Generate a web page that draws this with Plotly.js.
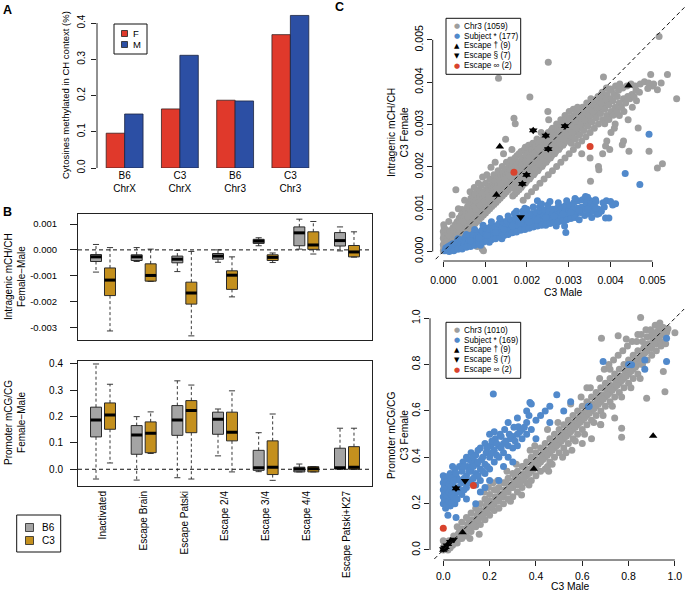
<!DOCTYPE html>
<html><head><meta charset="utf-8">
<script src="https://cdn.plot.ly/plotly-3.0.1.min.js"></script>
<style>html,body{margin:0;padding:0;background:#fff}#chart{width:685px;height:592px}</style>
</head><body><div id="chart"></div>
<script>
// ---------------- Panel A data ----------------
const aStrain = ['B6','C3','B6','C3'];
const aChrom  = ['ChrX','ChrX','Chr3','Chr3'];
const aFemale = [0.096, 0.163, 0.187, 0.368];
const aMale   = [0.149, 0.311, 0.185, 0.421];
const aTicks  = [0, 0.1, 0.2, 0.3, 0.4];
const aTickText = ['0.0','0.1','0.2','0.3','0.4'];

// ---------------- Panel B data ----------------
const groups = ['Inactivated','Escape Brain','Escape Patski','Escape 2/4','Escape 3/4','Escape 4/4','Escape Patski+K27'];
// [lower whisker, Q1, median, Q3, upper whisker]  (units of 0.001)
const intraB6 = [[-0.86,-0.45,-0.27,-0.18,0.21],[-0.45,-0.41,-0.27,-0.19,0.09],[-0.84,-0.50,-0.36,-0.24,-0.02],
  [-0.48,-0.36,-0.24,-0.14,0.00],[0.16,0.25,0.34,0.41,0.47],[0.03,0.16,0.66,0.89,1.19],[-0.04,0.15,0.36,0.67,0.89]];
const intraC3 = [[-3.14,-1.77,-1.17,-0.70,0.09],[-1.22,-1.21,-0.99,-0.54,0.03],[-3.33,-2.10,-1.67,-1.25,-0.06],
  [-1.82,-1.53,-0.98,-0.81,-0.27],[-0.49,-0.41,-0.29,-0.19,-0.12],[-0.16,0.02,0.19,0.70,1.10],[-0.28,-0.27,-0.08,0.17,0.70]];
// [lower whisker, Q1, median, Q3, upper whisker]
const promB6 = [[-0.037,0.123,0.187,0.236,0.400],[-0.041,0.057,0.130,0.166,0.200],[-0.032,0.129,0.187,0.242,0.336],
  [0.051,0.133,0.190,0.217,0.229],[-0.009,-0.004,0.006,0.072,0.139],[-0.010,-0.010,0.001,0.008,0.020],[0.000,0.001,0.006,0.080,0.156]];
const promC3 = [[0.024,0.152,0.206,0.252,0.323],[0.060,0.063,0.137,0.180,0.218],[-0.037,0.139,0.223,0.261,0.320],
  [-0.010,0.108,0.141,0.217,0.298],[-0.042,-0.020,0.008,0.108,0.210],[-0.010,-0.010,0.002,0.010,0.010],[0.000,0.000,0.008,0.086,0.156]];
const bTopTicks = [-0.003,-0.002,-0.001,0,0.001];
const bTopTickText = ['-0.003','-0.002','-0.001','0.000','0.001'];
const bBotTicks = [0,0.1,0.2,0.3,0.4];
const bBotTickText = ['0.0','0.1','0.2','0.3','0.4'];

// ---------------- Panel C data (top: units of 0.001) ----------------
const chr3Top = [
[0.00,0.02],[0.01,0.09],[0.00,0.16],[0.02,0.23],[0.00,0.31],[0.01,0.39],[0.00,0.47],[0.02,0.56],[0.01,0.63],
[0.05,0.04],[0.06,0.12],[0.04,0.20],[0.07,0.28],[0.05,0.36],[0.06,0.51],
[0.10,0.03],[0.11,0.10],[0.09,0.17],[0.12,0.25],[0.10,0.33],[0.11,0.43],[0.13,0.71],
[0.16,0.07],[0.15,0.18],[0.17,0.27],[0.14,0.37],[0.16,0.49],
[0.21,0.11],[0.19,0.21],[0.22,0.30],[0.20,0.41],[0.23,0.56],[0.21,0.86],
[0.26,0.14],[0.24,0.26],[0.27,0.36],[0.25,0.51],[0.28,0.63],
[0.31,0.19],[0.29,0.31],[0.32,0.43],[0.30,0.56],[0.33,0.70],[0.30,1.46],
[0.36,0.26],[0.34,0.39],[0.37,0.51],[0.35,0.66],[0.38,0.79],[0.36,1.01],
[0.41,0.29],[0.39,0.46],[0.42,0.59],[0.40,0.71],[0.43,0.86],[0.45,0.99],
[0.46,0.36],[0.44,0.51],[0.47,0.63],[0.45,0.76],[0.48,0.91],
[0.51,0.41],[0.49,0.56],[0.52,0.69],[0.50,0.81],[0.53,0.96],[0.51,1.21],
[0.56,0.46],[0.54,0.61],[0.57,0.73],[0.55,0.89],[0.58,1.06],
[0.61,0.51],[0.59,0.63],[0.62,0.76],[0.60,0.91],[0.63,1.01],[0.61,1.16],[0.64,1.41],
[0.66,0.56],[0.64,0.71],[0.67,0.83],[0.65,0.96],[0.68,1.11],[0.66,1.26],
[0.71,0.61],[0.69,0.73],[0.72,0.86],[0.70,1.01],[0.73,1.13],[0.71,1.31],[0.74,1.51],
[0.76,0.66],[0.74,0.81],[0.77,0.93],[0.75,1.06],[0.78,1.21],[0.76,1.36],
[0.81,0.71],[0.79,0.86],[0.82,0.96],[0.80,1.11],[0.83,1.26],[0.81,1.41],[0.84,1.61],[0.81,0.12],
[0.86,0.76],[0.84,0.91],[0.87,1.01],[0.85,1.16],[0.88,1.31],[0.86,1.46],
[0.91,0.81],[0.89,0.96],[0.92,1.09],[0.90,1.21],[0.93,1.36],[0.91,1.56],[0.94,1.76],[0.93,0.06],
[0.96,0.86],[0.94,1.01],[0.97,1.13],[0.95,1.26],[0.98,1.41],[0.96,0.02],
[1.01,0.91],[0.99,1.06],[1.02,1.19],[1.00,1.31],[1.03,1.46],[1.01,1.61],[1.04,1.81],
[1.06,0.96],[1.04,1.11],[1.07,1.23],[1.05,1.36],[1.08,1.51],
[1.11,1.01],[1.09,1.13],[1.12,1.26],[1.10,1.41],[1.13,1.56],[1.11,1.71],[1.14,1.99],
[1.16,1.06],[1.14,1.21],[1.17,1.33],[1.15,1.46],[1.18,1.61],
[1.21,1.11],[1.19,1.26],[1.22,1.39],[1.20,1.51],[1.23,1.66],[1.21,1.81],[1.24,2.11],
[1.26,1.16],[1.24,1.31],[1.27,1.43],[1.25,1.56],[1.28,1.71],
[1.31,1.21],[1.29,1.36],[1.32,1.49],[1.30,1.61],[1.33,1.76],[1.31,1.91],[1.32,4.09],
[1.36,1.26],[1.34,1.41],[1.37,1.53],[1.35,1.66],[1.38,1.81],
[1.41,1.31],[1.39,1.46],[1.42,1.59],[1.40,1.71],[1.43,1.86],[1.41,2.01],[1.44,2.31],
[1.46,1.36],[1.44,1.51],[1.47,1.63],[1.45,1.76],[1.48,1.91],
[1.51,1.41],[1.49,1.56],[1.52,1.69],[1.50,1.81],[1.53,1.96],[1.51,2.11],[1.49,2.65],
[1.56,1.46],[1.54,1.61],[1.57,1.73],[1.55,1.86],[1.58,2.01],
[1.61,1.51],[1.59,1.63],[1.62,1.76],[1.60,1.89],[1.63,2.01],[1.61,2.16],[1.64,2.41],
[1.66,1.31],[1.64,1.56],[1.67,1.71],[1.65,1.83],[1.68,1.96],[1.66,2.11],
[1.71,1.36],[1.69,1.61],[1.72,1.73],[1.70,1.86],[1.73,2.01],[1.71,2.21],[1.69,3.15],[1.72,3.02],
[1.76,1.41],[1.74,1.56],[1.77,1.76],[1.75,1.91],[1.78,2.06],[1.76,2.26],
[1.81,1.46],[1.79,1.66],[1.82,1.81],[1.80,1.96],[1.83,2.11],[1.81,2.31],
[1.86,1.51],[1.84,1.71],[1.87,1.86],[1.85,2.01],[1.88,2.16],[1.86,2.36],
[1.91,1.21],[1.89,1.56],[1.92,1.76],[1.90,1.91],[1.93,2.06],[1.91,2.21],[1.94,2.41],
[1.96,1.61],[1.94,1.81],[1.97,1.96],[1.95,2.11],[1.98,2.26],[1.96,2.46],
[2.01,1.31],[1.99,1.66],[2.02,1.86],[2.00,2.01],[2.03,2.16],[2.01,2.31],[2.04,2.51],
[2.06,1.71],[2.04,1.91],[2.07,2.06],[2.05,2.21],[2.08,2.36],[2.07,3.65],
[2.11,1.41],[2.09,1.76],[2.12,1.96],[2.10,2.11],[2.13,2.26],[2.11,2.41],[2.14,2.56],
[2.16,1.81],[2.14,2.01],[2.17,2.16],[2.15,2.31],[2.18,2.46],
[2.21,1.51],[2.19,1.86],[2.22,2.06],[2.20,2.21],[2.23,2.36],[2.21,2.51],[2.24,2.66],
[2.26,1.91],[2.24,2.11],[2.27,2.26],[2.25,2.41],[2.28,2.56],
[2.31,1.61],[2.29,1.96],[2.32,2.16],[2.30,2.31],[2.33,2.46],[2.31,2.61],[2.34,2.81],
[2.36,2.01],[2.34,2.21],[2.37,2.36],[2.35,2.51],[2.38,2.66],
[2.41,1.71],[2.39,2.06],[2.42,2.26],[2.40,2.41],[2.43,2.56],[2.41,2.71],
[2.46,2.11],[2.44,2.31],[2.47,2.46],[2.45,2.61],[2.48,2.76],
[2.51,1.81],[2.49,2.16],[2.52,2.36],[2.50,2.51],[2.53,2.66],[2.51,2.81],[2.50,3.31],[2.52,3.11],[2.51,4.47],
[2.56,2.21],[2.54,2.41],[2.57,2.56],[2.55,2.71],[2.58,2.86],
[2.61,1.91],[2.59,2.26],[2.62,2.46],[2.60,2.61],[2.63,2.76],[2.61,2.91],
[2.66,2.31],[2.64,2.51],[2.67,2.66],[2.65,2.81],
[2.71,2.01],[2.69,2.36],[2.72,2.56],[2.70,2.71],[2.73,2.86],[2.71,3.01],
[2.76,2.41],[2.74,2.61],[2.77,2.76],[2.75,2.91],
[2.81,2.11],[2.79,2.46],[2.82,2.66],[2.80,2.81],[2.83,2.96],[2.81,3.11],
[2.86,2.51],[2.84,2.71],[2.87,2.86],[2.85,3.01],
[2.91,2.21],[2.89,2.56],[2.92,2.76],[2.90,2.91],[2.93,3.06],[2.91,3.21],
[2.96,2.61],[2.94,2.81],[2.97,2.96],[2.95,3.11],
[3.01,2.31],[2.99,2.66],[3.02,2.86],[3.00,3.01],[3.03,3.16],[3.01,3.31],
[3.11,2.41],[3.09,2.71],[3.12,2.91],[3.10,3.06],[3.13,3.21],[3.11,3.36],
[3.21,2.51],[3.19,2.81],[3.22,3.01],[3.20,3.16],[3.23,3.31],[3.21,3.41],
[3.31,2.61],[3.29,2.91],[3.32,3.11],[3.30,3.26],[3.33,3.41],[3.31,2.31],
[3.41,2.71],[3.39,3.01],[3.42,3.21],[3.40,3.36],[3.43,3.51],
[3.51,2.81],[3.49,3.11],[3.52,3.31],[3.50,3.46],[3.53,3.61],[3.51,2.21],
[3.61,2.91],[3.59,3.21],[3.62,3.41],[3.60,3.56],[3.52,1.66],
[3.71,3.01],[3.69,3.31],[3.72,3.51],[3.70,3.66],[3.71,2.01],
[3.81,3.11],[3.79,3.41],[3.82,3.61],[3.80,3.76],[3.81,2.31],[3.72,1.93],[3.83,4.12],
[3.91,3.21],[3.89,3.51],[3.92,3.71],[3.90,3.86],[3.91,2.61],[3.88,2.49],
[4.01,3.31],[3.99,3.61],[4.02,3.81],[4.01,2.81],[3.98,2.41],[4.00,3.84],
[4.11,3.41],[4.09,3.71],[4.12,3.91],[4.11,3.01],[4.09,2.91],
[4.21,3.51],[4.19,3.81],[4.22,3.96],[4.21,3.21],[4.28,2.52],
[4.31,3.61],[4.29,3.86],[4.32,3.31],[4.31,2.61],
[4.41,3.66],[4.39,3.91],[4.42,3.11],[4.44,2.37],
[4.51,3.71],[4.49,3.96],[4.52,3.41],[4.66,2.92],
[4.61,3.81],[4.59,3.91],[4.62,3.56],[4.71,3.96],[4.69,3.76],
[4.81,4.01],[4.92,2.37],[4.91,3.98],[4.89,3.85],[4.96,4.18],
[5.01,3.91],[5.03,3.96],[5.12,3.82],[5.16,5.08],
[5.21,3.98],[5.12,1.97],[5.24,2.07],[5.36,4.18],[5.58,3.61],
[0.33,0.33],[0.43,0.40],[0.48,0.70],[0.53,0.50],[0.58,0.82],[0.63,0.60],[0.68,0.92],[0.73,0.70],[0.78,1.00],[0.83,0.80],
[0.88,1.09],[0.93,0.88],[0.98,1.19],[1.03,0.99],[1.08,1.29],[1.13,1.09],[1.18,1.39],[1.23,1.19],[1.28,1.49],[1.33,1.29],
[1.38,1.59],[1.43,1.39],[1.48,1.69],[1.53,1.49],[1.58,1.79],[1.63,1.59],[1.68,1.89],[1.73,1.66],[1.78,1.96],[1.83,1.74],
[1.88,2.04],[1.93,1.84],[1.98,2.12],[2.03,1.94],[2.08,2.22],[2.13,2.04],[2.18,2.32],[2.23,2.14],[2.28,2.42],[2.33,2.24],
[2.38,2.50],[2.43,2.34],[2.48,2.58],[2.53,2.44],[2.58,2.66],[2.63,2.54],[2.68,2.74],[2.73,2.62],[2.78,2.84],[2.83,2.72],
[2.88,2.94],[2.93,2.82],[2.98,2.92],[3.06,2.56],[3.06,2.96],[3.16,2.66],[3.16,3.09],[3.26,2.76],[3.26,3.19],[3.36,2.86],
[3.36,3.29],[3.46,2.96],[3.46,3.39],[3.56,3.06],[3.56,3.49],[3.66,3.16],[3.66,3.59],[3.76,3.26],[3.76,3.69],[3.86,3.36],
[3.86,3.02],[3.96,3.46],[3.96,3.12],[4.06,3.56],[4.06,3.22],[4.16,3.66],[4.16,3.32],[4.26,3.41],[4.36,3.51],[4.46,3.61],[4.56,3.66],
[0.38,0.58],[0.48,0.47],[0.58,0.55],[0.68,0.66],[0.78,0.75],[0.88,0.85],[0.98,0.95],[1.08,1.05],[1.18,1.15],[1.28,1.25],
[1.38,1.35],[1.48,1.45],[1.58,1.55],[1.68,1.50],[1.78,1.60],[1.88,1.68],[1.98,1.76],[2.08,1.86],[2.18,1.96],[2.28,2.06],
[2.38,2.16],[2.48,2.26],[2.58,2.36],[2.68,2.46],[2.78,2.56],[2.88,2.66],[2.98,2.76],[3.08,2.81],[3.18,2.91],[3.28,3.01],
[3.38,3.11],[3.48,3.21],[3.58,3.31],[3.68,3.41],[3.78,3.51],[3.88,3.61]];
const subjTop = [
[0.04,0.02],[0.06,0.08],[0.09,0.04],[0.11,0.11],[0.14,0.00],[0.15,0.08],[0.16,0.14],[0.19,0.05],[0.21,0.12],[0.22,0.18],
[0.28,0.08],[0.30,0.15],[0.32,0.22],[0.38,0.10],[0.41,0.20],[0.42,0.28],[0.48,0.12],[0.51,0.24],[0.52,0.33],
[0.58,0.18],[0.61,0.28],[0.62,0.38],[0.68,0.20],[0.71,0.32],[0.72,0.42],[0.78,0.25],[0.81,0.35],[0.82,0.45],
[0.88,0.28],[0.91,0.40],[0.92,0.50],[0.89,0.15],[0.98,0.30],[1.01,0.42],[1.02,0.55],
[1.08,0.35],[1.11,0.48],[1.12,0.58],[1.10,0.22],[1.18,0.38],[1.21,0.50],[1.22,0.60],
[1.28,0.42],[1.31,0.55],[1.32,0.65],[1.38,0.45],[1.41,0.58],[1.42,0.70],[1.40,0.30],
[1.48,0.48],[1.51,0.62],[1.52,0.72],[1.58,0.50],[1.61,0.65],[1.62,0.75],
[1.68,0.55],[1.71,0.68],[1.72,0.78],[1.70,0.90],[1.78,0.58],[1.81,0.70],[1.82,0.82],
[1.88,0.60],[1.91,0.72],[1.92,0.85],[1.90,0.95],[1.98,0.62],[2.01,0.75],[2.02,0.88],[2.00,1.00],
[2.08,0.65],[2.11,0.78],[2.12,0.90],[2.25,1.20],[2.18,0.68],[2.21,0.80],[2.22,0.92],
[2.28,0.70],[2.31,0.82],[2.32,0.95],[2.30,1.05],[2.38,0.72],[2.41,0.85],[2.42,0.98],
[2.48,0.70],[2.51,0.85],[2.52,0.95],[2.50,1.10],[2.58,0.75],[2.61,0.88],[2.62,1.00],
[2.68,0.78],[2.71,0.90],[2.72,1.02],[2.70,0.60],[2.78,0.80],[2.81,0.92],[2.82,1.05],[2.93,0.45],
[2.88,0.82],[2.91,0.95],[2.92,1.08],[2.90,0.60],[2.98,0.85],[3.01,0.98],[3.02,1.10],
[3.08,0.88],[3.11,1.00],[3.12,1.15],[3.18,0.90],[3.21,1.02],[3.22,1.20],
[3.28,0.92],[3.31,1.05],[3.33,1.22],[3.40,1.30],[3.38,0.85],[3.41,1.00],[3.42,1.15],
[3.48,0.90],[3.51,1.05],[3.52,1.20],[3.58,0.95],[3.64,1.22],[3.61,1.10],
[3.68,0.88],[3.72,0.90],[3.71,1.00],[3.78,0.95],[3.88,0.79],[3.96,0.79],[3.90,1.20],
[4.00,1.18],[4.12,1.13],[4.35,1.84],[4.70,1.58],[4.92,2.77],
[0.25,0.02],[0.35,0.05],[0.45,0.06],[0.55,0.10],[0.65,0.12],[0.75,0.15],[0.85,0.20],[0.95,0.22],[1.05,0.25],[1.15,0.28],
[1.25,0.30],[1.35,0.35],[1.45,0.38],[1.55,0.40],[1.65,0.44],[1.75,0.46],[1.85,0.50],[1.95,0.52],[2.05,0.55],[2.15,0.58],
[2.25,0.60],[2.35,0.62],[2.45,0.62],[2.55,0.66],[2.65,0.68],[2.75,0.70],[2.85,0.72],[2.95,0.75],[3.05,0.78],[3.15,0.80],
[0.35,0.30],[0.55,0.40],[0.75,0.52],[0.95,0.62],[1.15,0.70],[1.35,0.78],[1.55,0.84],[1.75,0.95],[1.95,1.02],[2.15,1.05],
[2.35,1.12],[2.55,1.18],[2.75,1.15],[2.95,1.20],[3.15,1.25],[3.45,1.28],[3.25,0.75],[3.55,0.80],[3.65,1.18],[3.85,1.05],[3.82,1.15],[4.05,1.10],
[0.65,0.25],[0.85,0.32],[1.05,0.38],[1.25,0.45],[1.45,0.52],[1.65,0.60],[1.85,0.66],[2.05,0.70],[2.25,0.75],[2.45,0.80],
[2.65,0.83],[2.85,0.88],[3.05,0.92],[3.25,0.97],[3.45,1.00],[3.65,1.02]];
const escUpTop   = [[4.43,3.92],[1.35,2.48],[1.27,1.34],[2.15,2.86],[2.45,2.74],[2.91,2.96],[2.51,2.42],[1.99,1.81],[1.89,1.60]];
const escDownTop = [[2.15,2.86],[2.45,2.74],[2.91,2.96],[2.51,2.42],[1.99,1.81],[1.89,1.60],[1.85,0.81]];
const escInfTop  = [[1.69,1.87],[3.51,2.48]];
const cTopTicks = [0,0.001,0.002,0.003,0.004,0.005];
const cTopTickText = ['0.000','0.001','0.002','0.003','0.004','0.005'];
const cTopLegend = ['Chr3 (1059)','Subject * (177)','Escape \u2020 (9)','Escape \u00a7 (7)','Escape \u221e (2)'];

// ---------------- Panel C data (bottom) ----------------
const chr3Bot = [
[0.00,0.00],[0.00,0.01],[0.005,0.02],[0.00,0.04],[0.02,0.00],[0.02,0.02],[0.025,0.04],[0.04,0.02],[0.04,0.04],[0.045,0.06],
[0.06,0.03],[0.06,0.05],[0.065,0.07],[0.06,0.10],[0.08,0.05],[0.08,0.07],[0.085,0.09],[0.08,0.12],
[0.10,0.06],[0.10,0.09],[0.105,0.11],[0.10,0.14],[0.12,0.08],[0.12,0.10],[0.125,0.13],[0.12,0.16],[0.115,0.05],
[0.14,0.10],[0.14,0.12],[0.145,0.15],[0.14,0.18],[0.16,0.11],[0.16,0.14],[0.165,0.17],[0.16,0.20],[0.155,0.068],
[0.18,0.13],[0.18,0.16],[0.185,0.19],[0.18,0.22],[0.175,0.25],[0.20,0.15],[0.20,0.18],[0.205,0.21],[0.20,0.24],[0.195,0.27],
[0.22,0.17],[0.22,0.20],[0.225,0.23],[0.22,0.26],[0.215,0.29],[0.24,0.18],[0.24,0.21],[0.245,0.24],[0.24,0.27],[0.235,0.30],
[0.26,0.20],[0.26,0.23],[0.265,0.26],[0.26,0.29],[0.28,0.22],[0.28,0.25],[0.285,0.28],[0.28,0.31],[0.275,0.34],
[0.30,0.23],[0.30,0.27],[0.305,0.30],[0.30,0.33],[0.32,0.25],[0.32,0.28],[0.325,0.31],[0.32,0.34],[0.315,0.37],
[0.34,0.27],[0.34,0.30],[0.345,0.33],[0.34,0.36],[0.338,0.237],[0.36,0.29],[0.36,0.32],[0.365,0.35],[0.36,0.38],
[0.38,0.30],[0.38,0.34],[0.385,0.37],[0.38,0.40],[0.375,0.43],[0.40,0.32],[0.40,0.36],[0.405,0.39],[0.40,0.42],[0.395,0.45],
[0.42,0.34],[0.42,0.38],[0.425,0.41],[0.42,0.44],[0.44,0.35],[0.44,0.40],[0.445,0.43],[0.44,0.46],[0.45,0.52],
[0.46,0.38],[0.46,0.42],[0.465,0.45],[0.46,0.48],[0.455,0.34],[0.48,0.40],[0.48,0.44],[0.485,0.47],[0.48,0.50],
[0.50,0.42],[0.50,0.46],[0.505,0.49],[0.50,0.52],[0.495,0.55],[0.52,0.44],[0.52,0.48],[0.525,0.51],[0.52,0.54],[0.515,0.40],
[0.54,0.46],[0.54,0.50],[0.545,0.53],[0.54,0.56],[0.56,0.48],[0.56,0.52],[0.565,0.55],[0.56,0.58],[0.555,0.43],[0.55,0.63],
[0.58,0.50],[0.58,0.54],[0.585,0.57],[0.58,0.60],[0.60,0.52],[0.60,0.56],[0.605,0.59],[0.60,0.62],[0.595,0.66],[0.60,0.46],
[0.62,0.54],[0.62,0.58],[0.625,0.61],[0.62,0.64],[0.62,0.70],[0.64,0.56],[0.64,0.60],[0.645,0.63],[0.64,0.66],[0.635,0.70],[0.64,0.48],
[0.66,0.58],[0.66,0.62],[0.665,0.65],[0.66,0.68],[0.68,0.60],[0.68,0.64],[0.685,0.67],[0.68,0.70],[0.675,0.74],[0.68,0.54],[0.683,0.914],
[0.70,0.62],[0.70,0.66],[0.705,0.69],[0.70,0.72],[0.695,0.78],[0.72,0.64],[0.72,0.68],[0.725,0.71],[0.72,0.74],[0.715,0.80],[0.72,0.78],
[0.74,0.66],[0.74,0.70],[0.745,0.73],[0.74,0.76],[0.735,0.82],[0.74,0.57],[0.755,0.925],
[0.76,0.68],[0.76,0.72],[0.765,0.75],[0.76,0.78],[0.755,0.84],[0.77,0.525],[0.77,0.486],[0.679,0.542],
[0.78,0.70],[0.78,0.74],[0.785,0.77],[0.78,0.80],[0.775,0.86],[0.79,0.91],[0.80,0.72],[0.80,0.76],[0.805,0.79],[0.80,0.82],[0.795,0.88],
[0.82,0.74],[0.82,0.78],[0.825,0.81],[0.82,0.84],[0.815,0.90],[0.84,0.76],[0.84,0.80],[0.845,0.83],[0.84,0.86],[0.835,0.90],[0.84,0.93],
[0.86,0.80],[0.86,0.84],[0.865,0.87],[0.86,0.90],[0.855,0.93],[0.852,1.003],[0.88,0.82],[0.88,0.86],[0.885,0.89],[0.88,0.92],[0.875,0.95],[0.878,0.655],
[0.90,0.84],[0.90,0.87],[0.905,0.90],[0.90,0.92],[0.895,0.95],[0.92,0.86],[0.92,0.89],[0.925,0.91],[0.92,0.94],[0.915,0.97],
[0.94,0.88],[0.94,0.90],[0.945,0.93],[0.94,0.95],[0.935,0.98],[0.96,0.89],[0.96,0.92],[0.965,0.94],[0.957,0.683],[0.95,0.77],[1.00,0.938],
[0.03,0.01],[0.05,0.03],[0.07,0.05],[0.09,0.08],[0.11,0.10],[0.13,0.11],[0.15,0.13],[0.17,0.15],[0.19,0.17],[0.21,0.19],
[0.23,0.22],[0.25,0.23],[0.27,0.25],[0.29,0.27],[0.31,0.29],[0.33,0.29],[0.35,0.31],[0.37,0.33],[0.39,0.35],[0.41,0.37],
[0.43,0.39],[0.45,0.41],[0.47,0.43],[0.49,0.45],[0.51,0.47],[0.53,0.49],[0.55,0.51],[0.57,0.53],[0.59,0.55],[0.61,0.57],
[0.63,0.59],[0.65,0.61],[0.67,0.63],[0.69,0.65],[0.71,0.67],[0.73,0.69],[0.75,0.71],[0.77,0.73],[0.79,0.75],[0.81,0.77],
[0.83,0.79],[0.85,0.82],[0.87,0.85],[0.89,0.88],[0.91,0.89],[0.93,0.92],[0.95,0.94],
[0.07,0.09],[0.11,0.13],[0.15,0.17],[0.19,0.21],[0.23,0.26],[0.27,0.29],[0.31,0.32],[0.35,0.36],[0.39,0.39],[0.43,0.43],
[0.47,0.47],[0.51,0.51],[0.55,0.55],[0.59,0.59],[0.63,0.63],[0.67,0.67],[0.71,0.71],[0.75,0.75],[0.79,0.79],[0.83,0.83],
[0.87,0.88],[0.91,0.92],[0.95,0.96],[0.93,0.965],[0.90,0.94],[0.97,0.955],
[0.29,0.21],[0.37,0.28],[0.45,0.36],[0.53,0.42],[0.61,0.50],[0.69,0.58],[0.77,0.66],[0.85,0.74],[0.47,0.37],[0.57,0.47],
[0.65,0.55],[0.73,0.62],[0.81,0.70]];
const subjBot = [
[0.00,0.20],[0.00,0.23],[0.00,0.26],[0.00,0.29],[0.00,0.32],[0.01,0.18],[0.01,0.22],[0.01,0.25],[0.01,0.28],[0.01,0.31],
[0.02,0.20],[0.02,0.24],[0.02,0.27],[0.02,0.30],[0.02,0.15],[0.03,0.19],[0.03,0.22],[0.03,0.26],[0.03,0.29],[0.03,0.33],
[0.04,0.21],[0.04,0.25],[0.04,0.28],[0.04,0.32],[0.04,0.36],[0.05,0.20],[0.05,0.24],[0.05,0.30],[0.05,0.35],
[0.06,0.22],[0.065,0.27],[0.06,0.31],[0.055,0.14],[0.08,0.24],[0.08,0.29],[0.08,0.34],[0.085,0.38],
[0.10,0.27],[0.10,0.32],[0.105,0.36],[0.10,0.40],[0.10,0.22],[0.12,0.30],[0.12,0.34],[0.125,0.38],[0.12,0.42],
[0.14,0.28],[0.14,0.33],[0.145,0.37],[0.14,0.41],[0.14,0.20],[0.16,0.30],[0.16,0.35],[0.165,0.39],[0.16,0.44],
[0.18,0.33],[0.18,0.37],[0.185,0.42],[0.18,0.46],[0.18,0.27],[0.20,0.35],[0.20,0.40],[0.205,0.45],[0.20,0.50],
[0.22,0.38],[0.22,0.43],[0.225,0.48],[0.22,0.51],[0.216,0.673],[0.24,0.40],[0.24,0.45],[0.245,0.50],[0.24,0.30],
[0.26,0.42],[0.26,0.46],[0.265,0.52],[0.28,0.40],[0.28,0.45],[0.285,0.50],[0.28,0.55],
[0.30,0.44],[0.30,0.49],[0.305,0.53],[0.32,0.45],[0.32,0.50],[0.324,0.532],[0.32,0.57],
[0.34,0.48],[0.34,0.52],[0.36,0.50],[0.36,0.55],[0.36,0.60],[0.374,0.637],[0.38,0.52],[0.38,0.63],
[0.40,0.48],[0.40,0.56],[0.42,0.58],[0.44,0.60],[0.46,0.62],[0.46,0.55],[0.49,0.67],[0.52,0.60],[0.55,0.64],[0.63,0.62],[0.626,0.619],
[0.69,0.813],[0.80,0.80],[0.813,0.799],[0.87,0.82],[0.87,0.78],[0.964,0.813],[0.964,0.914],
[0.005,0.215],[0.005,0.245],[0.005,0.275],[0.005,0.305],[0.015,0.195],[0.015,0.235],[0.015,0.265],[0.015,0.295],[0.025,0.21],[0.025,0.25],
[0.025,0.285],[0.025,0.32],[0.035,0.205],[0.035,0.24],[0.035,0.275],[0.035,0.31],[0.045,0.23],[0.045,0.265],[0.045,0.30],[0.055,0.22],
[0.055,0.26],[0.055,0.33],[0.07,0.25],[0.07,0.30],[0.07,0.36],[0.09,0.26],[0.09,0.31],[0.09,0.36],[0.11,0.29],[0.11,0.34],
[0.11,0.39],[0.13,0.31],[0.13,0.36],[0.13,0.40],[0.15,0.32],[0.15,0.38],[0.15,0.43],[0.17,0.34],[0.17,0.40],[0.19,0.36],
[0.19,0.44],[0.21,0.42],[0.21,0.47],[0.23,0.41],[0.23,0.46],[0.25,0.44],[0.25,0.49],[0.27,0.47],[0.29,0.48],[0.31,0.47],
[0.33,0.51],[0.35,0.53],[0.37,0.58],[0.30,0.38],[0.26,0.36],[0.20,0.30],[0.16,0.25]];
const escUpBot   = [[0.906,0.492],[0.391,0.350],[0.083,0.076],[0.055,0.266],[0.000,0.000],[0.010,0.012],[0.020,0.025],[0.032,0.040],[0.005,0.006]];
const escDownBot = [[0.094,0.298],[0.055,0.266],[0.000,0.004],[0.015,0.020],[0.030,0.035],[0.006,0.010],[0.045,0.045]];
const escInfBot  = [[0.130,0.278],[0.000,0.094]];
const cBotTicks = [0,0.2,0.4,0.6,0.8,1.0];
const cBotTickText = ['0.0','0.2','0.4','0.6','0.8','1.0'];
const cBotLegend = ['Chr3 (1010)','Subject * (169)','Escape \u2020 (9)','Escape \u00a7 (7)','Escape \u221e (2)'];

// ---------------- styling ----------------
const W = 685, H = 592;
const FONT = 'Liberation Sans, Arial, sans-serif';
const RED = '#E0392B', BLUE = '#2C4FA4', GRAYBOX = '#A4A4A4', GOLD = '#C4901E';
const PT_GRAY = '#9E9E9E', PT_BLUE = '#5189CB', PT_RED = '#D9432D';
const X = v => v / W, Y = v => 1 - v / H;
const domX = (a, b) => [a / W, b / W];
const domY = (t, b) => [1 - b / H, 1 - t / H];

const traces = [];
// Panel A bars
const aCats = aStrain.map((s, i) => s + '<br>' + aChrom[i]);
traces.push({type:'bar', x:aCats, y:aFemale, marker:{color:RED, line:{color:'#3a2020', width:0.8}}, xaxis:'x', yaxis:'y', showlegend:false, hoverinfo:'skip'});
traces.push({type:'bar', x:aCats, y:aMale, marker:{color:BLUE, line:{color:'#1c2440', width:0.8}}, xaxis:'x', yaxis:'y', showlegend:false, hoverinfo:'skip'});

// Panel B boxes
const BOXW = 0.27, OFF = 0.172, CAPW = 0.075;
function addBoxes(stats, scale, offset, fill, xa, ya) {
  const pos = stats.map((_, i) => i + 1 + offset);
  const s = stats.map(r => r.map(v => v * scale));
  const wx = [], wy = [], cx = [], cy = [], mx = [], my = [];
  s.forEach((r, i) => {
    const p = pos[i];
    wx.push(p, p, null, p, p, null); wy.push(r[3], r[4], null, r[1], r[0], null);
    cx.push(p - CAPW, p + CAPW, null, p - CAPW, p + CAPW, null); cy.push(r[4], r[4], null, r[0], r[0], null);
    mx.push(p - BOXW / 2, p + BOXW / 2, null); my.push(r[2], r[2], null);
  });
  traces.push({type:'scatter', mode:'lines', x:wx, y:wy, line:{color:'#222', width:0.9, dash:'3px,2.5px'}, xaxis:xa, yaxis:ya, showlegend:false, hoverinfo:'skip'});
  traces.push({type:'scatter', mode:'lines', x:cx, y:cy, line:{color:'#222', width:0.9}, xaxis:xa, yaxis:ya, showlegend:false, hoverinfo:'skip'});
  traces.push({type:'box', x:pos, q1:s.map(r => r[1]), median:s.map(r => r[2]), q3:s.map(r => r[3]),
    lowerfence:s.map(r => r[1]), upperfence:s.map(r => r[3]), width:BOXW, whiskerwidth:0,
    fillcolor:fill, line:{color:'#2a2a2a', width:1}, boxpoints:false, xaxis:xa, yaxis:ya, showlegend:false, hoverinfo:'skip'});
  traces.push({type:'scatter', mode:'lines', x:mx, y:my, line:{color:'#000', width:3}, xaxis:xa, yaxis:ya, showlegend:false, hoverinfo:'skip'});
}
addBoxes(intraB6, 0.001, -OFF, GRAYBOX, 'x2', 'y2');
addBoxes(intraC3, 0.001, OFF, GOLD, 'x2', 'y2');
addBoxes(promB6, 1, -OFF, GRAYBOX, 'x3', 'y3');
addBoxes(promC3, 1, OFF, GOLD, 'x3', 'y3');

// Panel C scatters
function addPts(pairs, scale, xa, ya, marker) {
  traces.push({type:'scatter', mode:'markers', x:pairs.map(p => p[0] * scale), y:pairs.map(p => p[1] * scale),
    marker:marker, xaxis:xa, yaxis:ya, showlegend:false, hoverinfo:'skip'});
}
const mG = {color:PT_GRAY, size:7, line:{width:0}}, mB = {color:PT_BLUE, size:7, line:{width:0}};
const mU = {color:'#000', size:7.5, symbol:'triangle-up', line:{width:0}}, mD = {color:'#000', size:7.5, symbol:'triangle-down', line:{width:0}};
const mR = {color:PT_RED, size:7, line:{width:0}};
[['x4','y4',0.001,chr3Top,subjTop,escUpTop,escDownTop,escInfTop],['x5','y5',1,chr3Bot,subjBot,escUpBot,escDownBot,escInfBot]].forEach(c => {
  addPts(c[3], c[2], c[0], c[1], mG); addPts(c[4], c[2], c[0], c[1], mB);
  addPts(c[5], c[2], c[0], c[1], mU); addPts(c[6], c[2], c[0], c[1], mD); addPts(c[7], c[2], c[0], c[1], mR);
});

const tf = s => ({family:FONT, size:s, color:'#000'});
const baseAx = {showgrid:false, zeroline:false, automargin:false, fixedrange:true, ticks:'outside', ticklen:5, tickwidth:1, tickcolor:'#222', linecolor:'#222', linewidth:1};
const layout = {
  width:W, height:H, margin:{l:0, r:0, t:0, b:0}, paper_bgcolor:'#fff', plot_bgcolor:'rgba(0,0,0,0)',
  font:{family:FONT, color:'#000'}, showlegend:false, barmode:'group', bargap:0.333, bargroupgap:0, boxmode:'overlay',
  xaxis: Object.assign({}, baseAx, {domain:domX(97,318), anchor:'y', range:[-0.5,3.5], ticks:'', showline:false, tickfont:tf(10)}),
  yaxis: Object.assign({}, baseAx, {domain:domY(10,168), anchor:'x', range:[0,0.436], tickvals:aTicks, ticktext:aTickText, tickangle:-90, showline:false, tickfont:tf(10), ticklabelstandoff:2}),
  xaxis2: Object.assign({}, baseAx, {domain:domX(78,372), anchor:'y2', range:[0.385,7.615], ticks:'', showticklabels:false, showline:true, mirror:true}),
  yaxis2: Object.assign({}, baseAx, {domain:domY(214,340), anchor:'x2', range:[-0.00349,0.00139], tickvals:bTopTicks, ticktext:bTopTickText, ticklen:7, showline:true, mirror:true, tickfont:tf(9.5), ticklabelstandoff:11}),
  xaxis3: Object.assign({}, baseAx, {domain:domX(78,372), anchor:'y3', range:[0.385,7.615], ticks:'', tickvals:groups.map((_, i) => i + 1), ticktext:groups, tickangle:-90, showline:true, mirror:true, tickfont:tf(10)}),
  yaxis3: Object.assign({}, baseAx, {domain:domY(360.7,486), anchor:'x3', range:[-0.0635,0.4125], tickvals:bBotTicks, ticktext:bBotTickText, ticklen:7, showline:true, mirror:true, tickfont:tf(10), ticklabelstandoff:5}),
  xaxis4: Object.assign({}, baseAx, {domain:domX(432.7,685), anchor:'y4', range:[-0.000254,0.00578], tickvals:cTopTicks, ticktext:cTopTickText, showline:false, tickfont:tf(10.5), ticklabelstandoff:4}),
  yaxis4: Object.assign({}, baseAx, {domain:domY(6,261), anchor:'x4', range:[-0.000225,0.0058], tickvals:cTopTicks, ticktext:cTopTickText, tickangle:-90, showline:false, tickfont:tf(10.5)}),
  xaxis5: Object.assign({}, baseAx, {domain:domX(430,685), anchor:'y5', range:[-0.0574,1.0436], tickvals:cBotTicks, ticktext:cBotTickText, showline:false, tickfont:tf(10.5), ticklabelstandoff:1}),
  yaxis5: Object.assign({}, baseAx, {domain:domY(309,560), anchor:'x5', range:[-0.0432,1.04], tickvals:cBotTicks, ticktext:cBotTickText, tickangle:-90, showline:false, tickfont:tf(10.5)}),
  shapes: [], annotations: []
};
const S = layout.shapes, A = layout.annotations;
const ln = {color:'#222', width:1};
// R-style axis lines spanning the tick range
S.push({type:'line', xref:'x domain', x0:0, x1:0, yref:'y', y0:0, y1:0.4, line:ln});
S.push({type:'line', xref:'x4', x0:0, x1:0.005, yref:'y4 domain', y0:0, y1:0, line:ln});
S.push({type:'line', xref:'x4 domain', x0:0, x1:0, yref:'y4', y0:0, y1:0.005, line:ln});
S.push({type:'line', xref:'x5', x0:0, x1:1, yref:'y5 domain', y0:0, y1:0, line:ln});
S.push({type:'line', xref:'x5 domain', x0:0, x1:0, yref:'y5', y0:0, y1:1, line:ln});
// reference lines
const dash = {color:'#111', width:1, dash:'4px,3px'};
S.push({type:'line', xref:'x2 domain', x0:0, x1:1, yref:'y2', y0:0, y1:0, line:dash, layer:'below'});
S.push({type:'line', xref:'x3 domain', x0:0, x1:1, yref:'y3', y0:0, y1:0, line:dash, layer:'below'});
S.push({type:'line', xref:'x4', x0:-0.0003, x1:0.0059, yref:'y4', y0:-0.0003, y1:0.0059, line:dash});
S.push({type:'line', xref:'x5', x0:-0.06, x1:1.05, yref:'y5', y0:-0.06, y1:1.05, line:dash});

// legends (drawn manually, R style)
const box = (x0, y0, x1, y1) => S.push({type:'rect', xref:'paper', yref:'paper', x0:X(x0), x1:X(x1), y0:Y(y1), y1:Y(y0), line:{color:'#111', width:1}, fillcolor:'#fff'});
const sq = (cx, cy, s, col) => S.push({type:'rect', xref:'paper', yref:'paper', x0:X(cx - s / 2), x1:X(cx + s / 2), y0:Y(cy + s / 2), y1:Y(cy - s / 2), line:{color:'#222', width:0.8}, fillcolor:col});
const txt = (x, y, t, size, opts) => A.push(Object.assign({xref:'paper', yref:'paper', x:X(x), y:Y(y), text:t, showarrow:false, xanchor:'left', yanchor:'middle', font:tf(size)}, opts || {}));
box(114, 24, 147, 54); sq(124.5, 33.5, 6, RED); sq(124.5, 44.5, 6, BLUE);
txt(130.5, 33.5, 'F', 9.5); txt(130.5, 44.5, 'M', 9.5);
box(16.7, 515, 60.7, 552); sq(29.5, 527.5, 8, GRAYBOX); sq(29.5, 540.5, 8, GOLD);
txt(40, 527.5, 'B6', 10); txt(40, 540.5, 'C3', 10);
function cLegend(top, labels) {
  box(446, top, 520.7, top + 56);
  const syms = [['\u25CF', PT_GRAY, 7], ['\u25CF', PT_BLUE, 7], ['\u25B2', '#000', 7], ['\u25BC', '#000', 7], ['\u25CF', PT_RED, 7]];
  labels.forEach((l, i) => {
    const yy = top + 8 + i * 9.8;
    A.push({xref:'paper', yref:'paper', x:X(456.5), y:Y(yy), text:syms[i][0], showarrow:false, xanchor:'center', yanchor:'middle', font:{family:'DejaVu Sans', size:syms[i][2], color:syms[i][1]}});
    txt(462, yy, l, 8.2);
  });
}
cLegend(18.3, cTopLegend);
cLegend(322.3, cBotLegend);

// titles
const rot = (x, y, t, size) => A.push({xref:'paper', yref:'paper', x:X(x), y:Y(y), text:t, showarrow:false, textangle:-90, xanchor:'center', yanchor:'middle', font:tf(size)});
rot(65, 95, 'Cytosines methylated in CH context (%)', 9.5);
rot(15, 277, 'Intragenic mCH/CH<br>Female\u2212Male', 10);
rot(15, 423, 'Promoter mCG/CG<br>Female\u2212Male', 10);
rot(398, 133, 'Intragenic mCH/CH<br>C3 Female', 10.3);
rot(398, 435, 'Promoter mCG/CG<br>C3 Female', 10.3);
A.push({xref:'paper', yref:'paper', x:X(563), y:Y(292), text:'C3 Male', showarrow:false, xanchor:'center', yanchor:'middle', font:tf(10.3)});
A.push({xref:'paper', yref:'paper', x:X(570), y:Y(586.5), text:'C3 Male', showarrow:false, xanchor:'center', yanchor:'middle', font:tf(10.3)});
// panel letters
txt(1, 10, '<b>A</b>', 12.5); txt(1, 212, '<b>B</b>', 12.5); txt(333, 7, '<b>C</b>', 12.5);

Plotly.newPlot('chart', traces, layout, {staticPlot:true, displayModeBar:false});
</script></body></html>
